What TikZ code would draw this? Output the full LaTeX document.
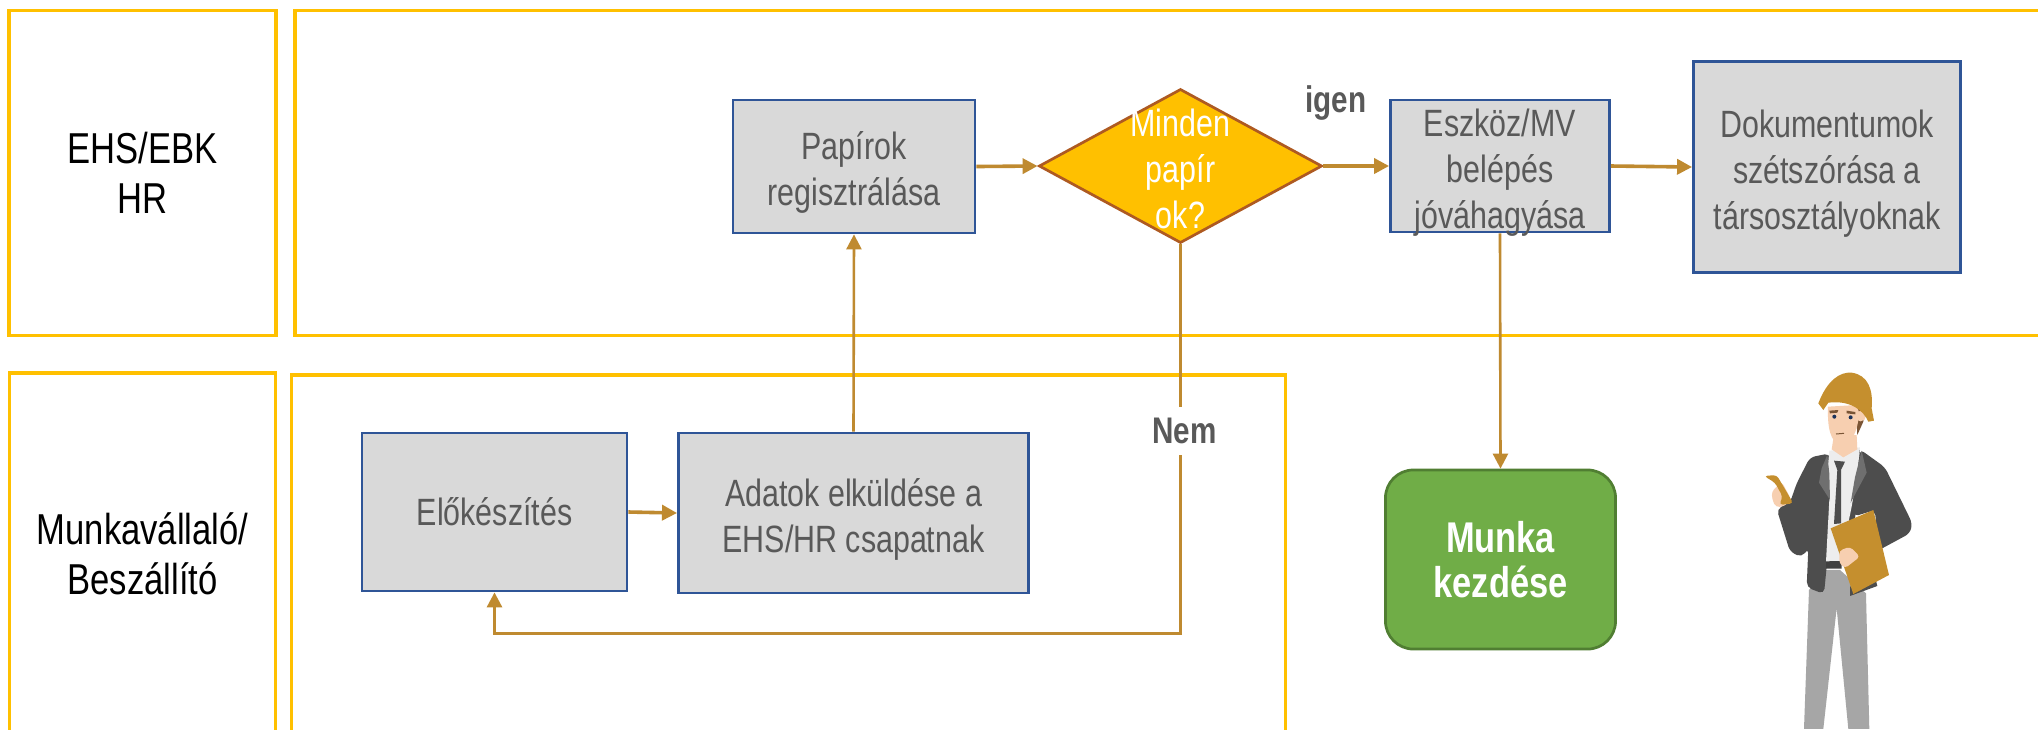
\documentclass[tikz,border=0pt]{standalone}
\usepackage{fontspec}
\setmainfont[FakeStretch=0.8]{Liberation Sans}
\usetikzlibrary{arrows.meta,shapes.geometric}
\definecolor{laneyellow}{HTML}{FFC000}
\definecolor{boxblue}{HTML}{2F5597}
\definecolor{boxgray}{HTML}{D9D9D9}
\definecolor{boxtext}{HTML}{595959}
\definecolor{flowbrown}{HTML}{BF8A30}
\definecolor{diamondline}{HTML}{AE5A21}
\definecolor{startgreen}{HTML}{70AD47}
\definecolor{startline}{HTML}{507E32}
\definecolor{suit}{HTML}{4D4D4D}
\definecolor{lapel}{HTML}{6F6F6F}
\definecolor{trouser}{HTML}{A6A6A6}
\definecolor{helmet}{HTML}{C58F2E}
\definecolor{skin}{HTML}{F7CFB0}
\definecolor{hair}{HTML}{7A5535}
\newcommand{\lowertext}{\rule{0pt}{0.40cm}}
\tikzset{
	lane/.style={draw=laneyellow,line width=0.035cm,inner sep=0pt,align=center,text=black,
		font=\fontsize{12.3}{14.23}\selectfont},
	stepbox/.style={draw=boxblue,fill=boxgray,line width=0.027cm,inner sep=0pt,align=center,text=boxtext,
		font=\fontsize{10.81}{13.09}\selectfont},
	decision/.style={diamond,draw=diamondline,fill=laneyellow,line width=0.027cm,inner sep=0pt,aspect=1.84},
	decisiontext/.style={align=center,text=white,inner sep=0pt,font=\fontsize{10.81}{13.09}\selectfont},
	startbox/.style={draw=startline,fill=startgreen,line width=0.027cm,rounded corners=0.28cm,inner sep=0pt,
		align=center,text=white,font=\bfseries\fontsize{12.23}{12.8}\selectfont},
	answer/.style={inner sep=0pt,text=boxtext,font=\bfseries\fontsize{10.53}{12}\selectfont},
	flow/.style={-{Triangle[length=0.15cm,width=0.15cm]},draw=flowbrown,line width=0.036cm},
	flowup/.style={flow,line width=0.026cm},
}

\begin{document}
\begin{tikzpicture}[x=0.01cm,y=-0.01cm]
	\clip (0,0) rectangle (2038,729);
	\fill[white] (0,0) rectangle (2038,729);
	% lanes
	\node[lane,minimum width=2.67cm,minimum height=3.25cm] (l1) at (142.5,173) {EHS/EBK\\HR};
	\node[lane,minimum width=17.65cm,minimum height=3.25cm] (l2) at (1178,173) {};
	\node[lane,minimum width=2.66cm,minimum height=3.62cm] (l3) at (142.5,554) {Munkavállaló/\\Beszállító};
	\node[lane,minimum width=9.93cm,minimum height=3.80cm] (l4) at (788.5,565) {};
	% steps
	\node[stepbox,minimum width=2.65cm,minimum height=1.58cm] (v1) at (494.5,512) {Előkészítés};
	\node[stepbox,minimum width=3.50cm,minimum height=1.60cm] (v2) at (853.5,513) {\lowertext Adatok elküldése a\\EHS/HR csapatnak};
	\node[stepbox,minimum width=2.42cm,minimum height=1.33cm] (v3) at (854,166.5) {\lowertext Papírok\\regisztrálása};
	\node[decision,minimum width=2.83cm,minimum height=1.54cm] (v4) at (1180.5,166) {};
	\node[stepbox,inner ysep=-0.1cm,minimum width=2.19cm,minimum height=1.32cm] (v5) at (1500,166) {\lowertext Eszköz/MV\\belépés\\jóváhagyása};
	\node[stepbox,minimum width=2.67cm,minimum height=2.11cm] (v6) at (1827,167) {\lowertext Dokumentumok\\szétszórása a\\társosztályoknak};
	\node[startbox,minimum width=2.30cm,minimum height=1.79cm] (v7) at (1500.5,559.5) {Munka\\kezdése};
	% connectors
	\coordinate (c1) at (1180.5,633);
	\coordinate (c2) at (494.5,633);
	\draw[flow] (v1.east) -- (v2.west);
	\draw[flowup] (v2.north) -- (v3.south);
	\draw[flow] (v3.east) -- (v4.west);
	\draw[flow] (v4.east) -- (v5.west);
	\draw[flow] (v5.east) -- (v6.west);
	\draw[flowup] (v5.south) -- (v7.north);
	\draw[flowup,line width=0.03cm] (v4.south) -- (c1) -- (c2) -- (v1.south);
	\node[decisiontext] (t4) at (1180.5,169) {Minden\\papír\\ok?};
	\node[answer,fill=white,minimum width=0.70cm,minimum height=0.48cm] (no) at (1184.5,431) {Nem};
	\node[answer] (yes) at (1336,103) {igen};
	% worker
	\begin{scope}[shift={(1740,360)},scale=0.3333]
		% trousers
		\fill[trouser] (207,690) -- (192,1107) -- (250,1107) -- (290,745) -- (325,1107) -- (388,1107) -- (378,700) -- (300,630) -- (255,630) -- cycle;
		% jacket and arms
		\fill[suit,rounded corners=1.5pt] (210,292) -- (170,370) -- (150,428) -- (110,447) -- (150,575) -- (185,592) -- (205,565) -- (200,682) -- (252,702) -- (262,600) -- (270,280) -- cycle;
		\fill[suit,rounded corners=1.5pt] (360,268) -- (435,322) -- (517,490) -- (510,520) -- (362,600) -- (345,560) -- (410,515) -- (405,450) -- (340,470) -- cycle;
		\fill[suit] (330,708) -- (412,678) -- (405,650) -- (330,680) -- cycle;
		\fill[suit] (270,280) -- (360,268) -- (345,480) -- (262,500) -- cycle;
		% shirt
		\fill[white!93!black] (268,272) -- (360,262) -- (352,340) -- (335,440) -- (300,610) -- (258,606) -- (268,420) -- (262,340) -- cycle;
		\fill[suit] (282,302) -- (315,305) -- (303,330) -- (303,490) -- (282,492) -- (292,330) -- cycle;
		% lapels
		\fill[lapel] (262,285) -- (245,325) -- (237,368) -- (270,420) -- (268,340) -- cycle;
		\fill[lapel] (365,272) -- (380,338) -- (332,428) -- (345,352) -- cycle;
		% belt
		\fill[black!75] (258,604) -- (305,603) -- (305,626) -- (258,626) -- cycle;
		% folder
		\fill[helmet] (272,505) -- (400,450) -- (447,645) -- (340,702) -- cycle;
		\fill[skin,rounded corners=1pt] (298,572) -- (330,560) -- (360,590) -- (315,625) -- (298,610) -- cycle;
		% neck and head
		\fill[skin] (282,225) -- (350,225) -- (352,268) -- (310,292) -- (275,268) -- cycle;
		\fill[hair] (335,140) -- (375,145) -- (370,185) -- (352,225) -- (350,190) -- cycle;
		\fill[skin] (264,140) .. controls (262,200) and (270,250) .. (305,255) .. controls (335,255) and (352,215) .. (358,160) -- (350,135) -- cycle;
		\fill[skin] (362,168) circle (16);
		\fill[hair] (268,152) -- (295,150) -- (292,158) -- (270,160) -- cycle;
		\fill[hair] (320,152) -- (346,156) -- (346,163) -- (320,160) -- cycle;
		\fill[boxblue!60!black] (283,170) circle (6);
		\fill[boxblue!60!black] (332,172) circle (6);
		\draw[hair,line width=0.01cm] (288,222) -- (312,220);
		% helmet
		\fill[helmet] (235,130) .. controls (262,60) and (300,35) .. (335,38) .. controls (385,45) and (400,90) .. (395,145) -- (402,182) -- (385,185) .. controls (370,150) and (330,120) .. (265,128) -- (250,150) -- cycle;
		% phone and hand
		\fill[skin,rounded corners=1pt] (95,395) -- (125,365) -- (152,415) -- (135,438) -- (108,442) -- (97,420) -- cycle;
		\fill[helmet,rounded corners=1pt] (72,348) -- (110,345) -- (160,430) -- (118,435) -- (128,410) -- (105,368) -- cycle;
	\end{scope}
\end{tikzpicture}
\end{document}
